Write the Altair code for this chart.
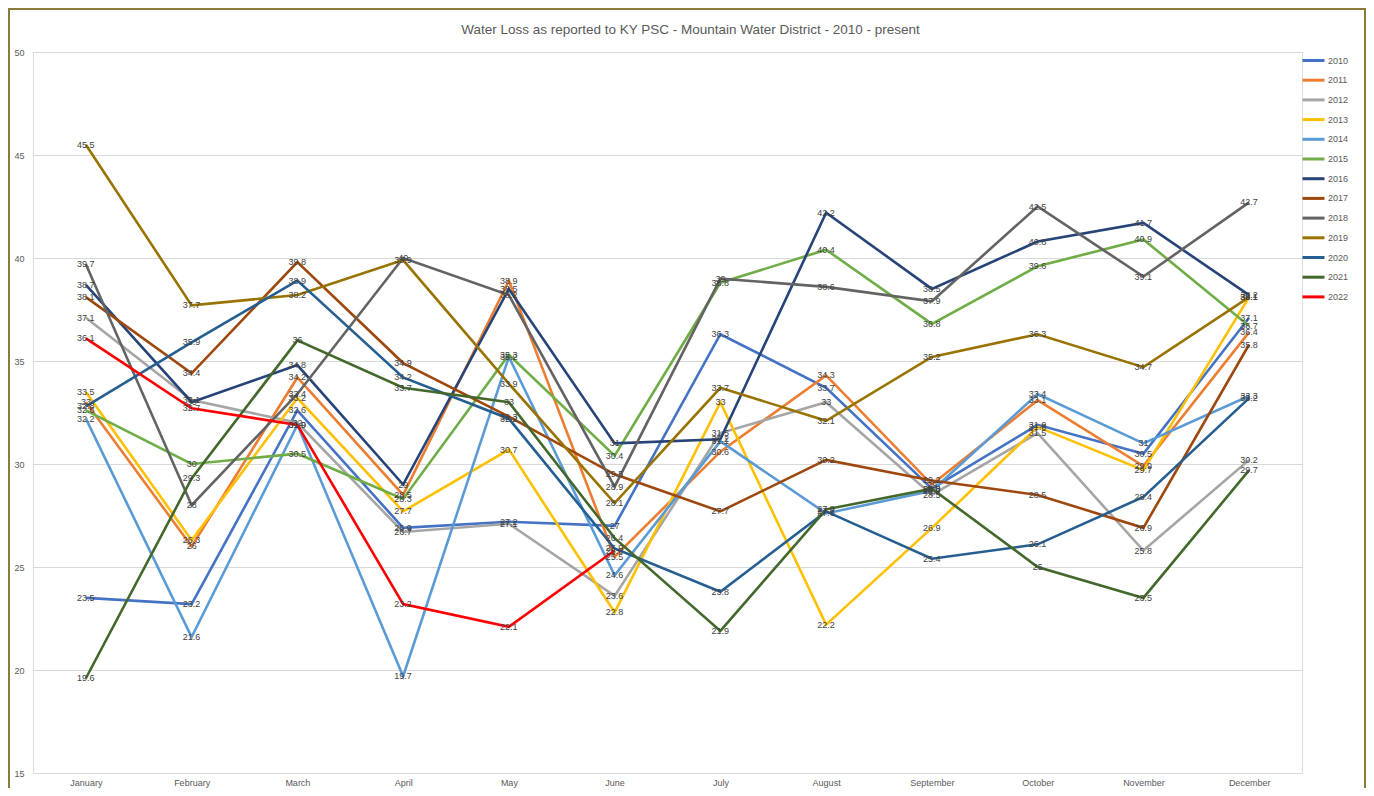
import altair as alt
import pandas as pd

months = ["January", "February", "March", "April", "May", "June", "July",
          "August", "September", "October", "November", "December"]
years = ["2010", "2011", "2012", "2013", "2014", "2015", "2016", "2017",
         "2018", "2019", "2020", "2021", "2022"]
colors = ["#4472C4", "#ED7D31", "#A5A5A5", "#FFC000", "#5B9BD5", "#70AD47",
          "#264478", "#9E480E", "#636363", "#997300", "#255E91", "#43682B", "#FF0000"]

v2010 = [23.5, 23.2, 32.6, 26.9, 27.2, 27.0, 36.3, 33.7, 28.8, 31.9, 30.5, 37.1]
v2011 = [33.0, 26.0, 34.2, 28.5, 38.9, 25.5, 30.6, 34.3, 29.0, 33.1, 29.9, 36.4]
v2012 = [37.1, 33.1, 32.0, 26.7, 27.1, 23.6, 31.5, 33.0, 28.5, 31.5, 25.8, 30.2]
v2013 = [33.5, 26.3, 33.2, 27.7, 30.7, 22.8, 33.0, 22.2, 26.9, 31.8, 29.7, 38.1]
v2014 = [32.2, 21.6, 31.9, 19.7, 35.2, 24.6, 31.1, 27.6, 28.7, 33.4, 31.0, 33.3]
v2015 = [32.6, 30.0, 30.5, 28.3, 35.3, 30.4, 38.8, 40.4, 36.8, 39.6, 40.9, 36.7]
v2016 = [38.7, 33.0, 34.8, 29.0, 38.5, 31.0, 31.2, 42.2, 38.5, 40.8, 41.7, 38.2]
v2017 = [38.1, 34.4, 39.8, 34.9, 32.3, 29.5, 27.7, 30.2, 29.2, 28.5, 26.9, 35.8]
v2018 = [39.7, 28.0, 33.4, 40.0, 38.2, 28.9, 39.0, 38.6, 37.9, 42.5, 39.1, 42.7]
v2019 = [45.5, 37.7, 38.2, 39.9, 33.9, 28.1, 33.7, 32.1, 35.2, 36.3, 34.7, 38.1]
v2020 = [32.8, 35.9, 38.9, 34.2, 32.2, 25.9, 23.8, 27.7, 25.4, 26.1, 28.4, 33.2]
v2021 = [19.6, 29.3, 36.0, 33.7, 33.0, 26.4, 21.9, 27.8, 28.8, 25.0, 23.5, 29.7]
v2022 = [36.1, 32.7, 31.9, 23.2, 22.1, 25.8]

series = [v2010, v2011, v2012, v2013, v2014, v2015, v2016, v2017,
          v2018, v2019, v2020, v2021, v2022]

rows = []
for yr, vals in zip(years, series):
    for m, v in zip(months, vals):
        rows.append({"Year": yr, "Month": m, "Loss": v, "Label": f"{v:g}"})
df = pd.DataFrame(rows)

font = "Liberation Sans"

x = alt.X("Month:O", sort=months,
          scale=alt.Scale(domain=months, padding=0.5),
          axis=alt.Axis(title=None, labelAngle=0, domain=False, ticks=False,
                        grid=False, labelPadding=5, labelFontSize=9,
                        labelColor="#595959", labelFont=font))
y = alt.Y("Loss:Q",
          scale=alt.Scale(domain=[15, 50], nice=False, zero=False),
          axis=alt.Axis(title=None, values=[15, 20, 25, 30, 35, 40, 45, 50],
                        domain=False, ticks=False, labelPadding=9,
                        labelFontSize=9, labelColor="#595959", labelFont=font,
                        gridColor="#D9D9D9", gridWidth=1))
color = alt.Color("Year:N",
                  scale=alt.Scale(domain=years, range=colors),
                  legend=alt.Legend(title=None, orient="none", legendX=1268,
                                    legendY=-4, symbolType="stroke",
                                    symbolSize=484, symbolStrokeWidth=3,
                                    labelFontSize=9, labelColor="#595959",
                                    labelFont=font, rowPadding=0.7,
                                    labelOffset=2))

base = alt.Chart(df)
lines = base.mark_line(strokeWidth=2.6).encode(x=x, y=y, color=color,
                                                order=alt.Order("Year:N"))
labels = base.mark_text(fontSize=9, font=font, color="#404040",
                        align="center", baseline="middle").encode(
    x=alt.X("Month:O", sort=months), y="Loss:Q", text="Label:N",
    detail="Year:N")

frame = alt.Chart(alt.Data(values=[{"a": 1}])).mark_rect(
    filled=False, stroke="#8C7A3A", strokeWidth=2).encode(
    x=alt.value(-24), x2=alt.value(1332), y=alt.value(-43), y2=alt.value(760))

chart = alt.layer(frame, lines, labels).properties(
    width=1269, height=721,
    autosize=alt.AutoSizeParams(type="none"),
    padding={"left": 25, "top": 44, "right": 64, "bottom": 15},
    title=alt.TitleParams(
        "Water Loss as reported to KY PSC - Mountain Water District - 2010 - present",
        fontSize=13.5, font=font, fontWeight="normal", color="#595959",
        anchor="middle", frame="group", dx=23, offset=-28),
).configure_view(stroke=None).configure(background="white")

chart.save("out.html", embed_options={"renderer": "svg", "actions": False})
